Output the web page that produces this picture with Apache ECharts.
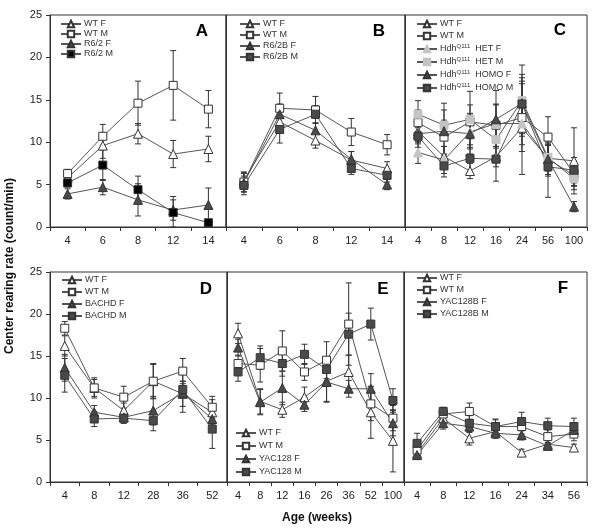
<!DOCTYPE html>
<html>
<head>
<meta charset="utf-8">
<script src="https://cdn.jsdelivr.net/npm/echarts@6/dist/echarts.min.js"></script>
<style>
  html, body { margin: 0; padding: 0; background: #fff; }
  #chart { width: 600px; height: 532px; }
</style>
</head>
<body>
<div id="chart"></div>
<script>
  // categories (age in weeks) per panel
  var catsA = ['4', '6', '8', '12', '14']
  var catsB = ['4', '6', '8', '12', '14']
  var catsC = ['4', '8', '12', '16', '24', '56', '100']
  var catsD = ['4', '8', '12', '28', '36', '52']
  var catsE = ['4', '8', '12', '16', '26', '36', '52', '100']
  var catsF = ['4', '8', '12', '16', '24', '34', '56']
  var yTicks = [0, 5, 10, 15, 20, 25]

  // Panel A: R6/2
  var aWtF = [5.8, 9.6, 11.0, 8.6, 9.2]
  var aWtFErr = [0.6, 1.5, 1.2, 1.6, 1.5]
  var aWtM = [6.3, 10.7, 14.6, 16.7, 13.9]
  var aWtMErr = [0.5, 1.4, 2.6, 4.1, 2.2]
  var aMutF = [3.9, 4.7, 3.2, 2.0, 2.6]
  var aMutFErr = [0.6, 0.9, 1.9, 1.2, 2.0]
  var aMutM = [5.2, 7.3, 4.4, 1.7, 0.5]
  var aMutMErr = [0.5, 1.8, 1.6, 1.9, 0.3]

  // Panel B: R6/2B
  var bWtF = [5.5, 12.4, 10.2, 7.9, 6.9]
  var bWtFErr = [1.0, 1.3, 0.9, 1.0, 0.8]
  var bWtM = [5.3, 14.0, 13.8, 11.2, 9.7]
  var bWtMErr = [1.1, 1.8, 1.6, 1.6, 1.2]
  var bMutF = [5.2, 13.3, 11.4, 8.0, 5.0]
  var bMutFErr = [1.1, 1.2, 1.4, 0.9, 0.6]
  var bMutM = [4.9, 11.5, 13.3, 6.9, 6.1]
  var bMutMErr = [1.1, 1.6, 1.0, 0.7, 0.8]

  // Panel C: HdhQ111
  var cWtF = [11.3, 8.3, 6.6, 8.3, 11.7, 8.1, 7.8]
  var cWtFErr = [1.3, 1.2, 0.9, 1.2, 5.5, 1.5, 3.9]
  var cWtM = [12.3, 10.6, 12.4, 12.0, 12.9, 10.6, 6.3]
  var cWtMErr = [1.5, 2.0, 2.0, 2.5, 4.0, 2.4, 1.5]
  var cHetF = [8.8, 7.9, 11.2, 12.2, 12.2, 8.0, 6.1]
  var cHetFErr = [1.3, 1.6, 2.0, 2.2, 2.5, 1.8, 1.2]
  var cHetM = [13.3, 12.0, 12.7, 10.3, 14.9, 8.2, 5.7]
  var cHetMErr = [1.6, 1.8, 3.3, 2.0, 4.2, 1.5, 1.3]
  var cHomoF = [11.0, 11.3, 11.0, 12.7, 14.6, 8.0, 2.4]
  var cHomoFErr = [1.2, 3.3, 2.4, 3.4, 3.0, 2.0, 0.6]
  var cHomoM = [10.7, 7.2, 8.1, 8.0, 14.5, 7.1, 6.7]
  var cHomoMErr = [1.3, 1.3, 1.6, 2.6, 3.5, 3.6, 1.5]

  // Panel D: BACHD
  var dWtF = [16.2, 11.2, 8.5, 12.0, 10.5, 8.3]
  var dWtFErr = [1.2, 1.0, 0.9, 2.0, 1.5, 1.5]
  var dWtM = [18.3, 11.2, 10.1, 12.0, 13.2, 8.9]
  var dWtMErr = [0.8, 1.2, 1.3, 2.1, 1.5, 1.3]
  var dMutF = [13.6, 8.3, 7.7, 8.5, 10.6, 7.5]
  var dMutFErr = [1.6, 0.8, 0.7, 1.7, 2.3, 1.4]
  var dMutM = [12.7, 7.5, 7.6, 7.3, 11.0, 6.3]
  var dMutMErr = [2.0, 0.9, 0.6, 1.2, 1.0, 2.3]

  // Panel E: YAC128
  var eWtF = [17.7, 9.6, 8.6, 10.1, 12.0, 13.1, 8.3, 4.9]
  var eWtFErr = [1.2, 1.5, 0.9, 1.2, 2.4, 2.0, 3.1, 3.7]
  var eWtM = [14.1, 13.9, 15.6, 13.1, 14.5, 18.8, 9.3, 7.6]
  var eWtMErr = [1.0, 2.0, 2.4, 1.0, 2.2, 4.9, 2.0, 1.5]
  var eMutF = [16.0, 9.5, 11.2, 9.2, 11.9, 11.1, 11.1, 7.0]
  var eMutFErr = [1.0, 1.5, 2.0, 0.8, 2.4, 1.0, 1.8, 1.5]
  var eMutM = [13.1, 14.8, 14.1, 15.2, 13.4, 17.6, 18.8, 9.7]
  var eMutMErr = [1.1, 1.4, 1.5, 1.2, 1.5, 2.5, 1.9, 1.4]

  // Panel F: YAC128B
  var fWtF = [3.4, 7.6, 5.2, 6.0, 3.5, 4.5, 4.1]
  var fWtFErr = [0.4, 0.7, 0.8, 0.6, 0.4, 0.5, 0.4]
  var fWtM = [3.8, 8.1, 8.4, 6.6, 6.6, 5.4, 5.7]
  var fWtMErr = [0.6, 0.7, 1.0, 0.8, 0.9, 0.8, 0.8]
  var fMutF = [3.2, 7.0, 6.6, 5.8, 5.6, 4.3, 6.2]
  var fMutFErr = [0.5, 0.7, 0.7, 0.6, 0.6, 0.4, 0.7]
  var fMutM = [4.6, 8.4, 7.0, 6.6, 7.2, 6.7, 6.6]
  var fMutMErr = [1.2, 0.5, 0.9, 0.9, 1.1, 0.9, 1.0]

  var FONT = 'Liberation Sans, Arial, sans-serif'
  var lineColor = '#555'
  var edgeColor = '#333'

  // marker styles
  var styles = {
    openTri: { symbol: 'triangle', size: 9, fill: '#fff' },
    openSq: { symbol: 'rect', size: 8, fill: '#fff' },
    darkTri: { symbol: 'triangle', size: 9, fill: '#4a4a4a' },
    darkSq: { symbol: 'rect', size: 8, fill: '#4a4a4a' },
    blackSq: { symbol: 'rect', size: 8, fill: '#000' },
    lightTri: { symbol: 'triangle', size: 9, fill: '#c4c4c4', border: '#c4c4c4' },
    lightSq: { symbol: 'rect', size: 8, fill: '#c4c4c4', border: '#c4c4c4' }
  }

  // grid boxes (pixels)
  var grids = [
    { left: 50, top: 15, width: 176, height: 212 },
    { left: 226, top: 15, width: 179, height: 212 },
    { left: 405, top: 15, width: 182, height: 212 },
    { left: 50, top: 272, width: 177, height: 210 },
    { left: 227, top: 272, width: 177, height: 210 },
    { left: 404, top: 272, width: 183, height: 210 }
  ]
  var panelCats = [catsA, catsB, catsC, catsD, catsE, catsF]

  var series = []
  function addSeries (gi, name, values, errs, st) {
    // error bars: own name so the legend takes its icon from the line series
    series.push({
      name: 'err ' + gi + ' ' + name,
      type: 'custom',
      xAxisIndex: gi,
      yAxisIndex: gi,
      z: 2,
      silent: true,
      data: values.map(function (v, i) { return [i, v, errs[i]] }),
      renderItem: function (params, api) {
        var x = api.value(0)
        var m = api.value(1)
        var e = api.value(2)
        var top = api.coord([x, m + e])
        var bot = api.coord([x, Math.max(0, m - e)])
        var cap = 3
        var style = { stroke: edgeColor, lineWidth: 1 }
        return {
          type: 'group',
          children: [
            { type: 'line', shape: { x1: top[0], y1: top[1], x2: bot[0], y2: bot[1] }, style: style },
            { type: 'line', shape: { x1: top[0] - cap, y1: top[1], x2: top[0] + cap, y2: top[1] }, style: style },
            { type: 'line', shape: { x1: bot[0] - cap, y1: bot[1], x2: bot[0] + cap, y2: bot[1] }, style: style }
          ]
        }
      }
    })
    series.push({
      name: name,
      type: 'line',
      xAxisIndex: gi,
      yAxisIndex: gi,
      z: 3,
      data: values,
      symbol: st.symbol,
      symbolSize: st.size,
      showAllSymbol: true,
      itemStyle: { color: st.fill, borderColor: st.border || edgeColor, borderWidth: 1, opacity: 1 },
      lineStyle: { color: lineColor, width: 1 }
    })
  }

  addSeries(0, 'WT F', aWtF, aWtFErr, styles.openTri)
  addSeries(0, 'WT M', aWtM, aWtMErr, styles.openSq)
  addSeries(0, 'R6/2 F', aMutF, aMutFErr, styles.darkTri)
  addSeries(0, 'R6/2 M', aMutM, aMutMErr, styles.blackSq)

  addSeries(1, 'WT F', bWtF, bWtFErr, styles.openTri)
  addSeries(1, 'WT M', bWtM, bWtMErr, styles.openSq)
  addSeries(1, 'R6/2B F', bMutF, bMutFErr, styles.darkTri)
  addSeries(1, 'R6/2B M', bMutM, bMutMErr, styles.darkSq)

  addSeries(2, 'WT F', cWtF, cWtFErr, styles.openTri)
  addSeries(2, 'WT M', cWtM, cWtMErr, styles.openSq)
  addSeries(2, 'HdhQ111 HET F', cHetF, cHetFErr, styles.lightTri)
  addSeries(2, 'HdhQ111 HET M', cHetM, cHetMErr, styles.lightSq)
  addSeries(2, 'HdhQ111 HOMO F', cHomoF, cHomoFErr, styles.darkTri)
  addSeries(2, 'HdhQ111 HOMO M', cHomoM, cHomoMErr, styles.darkSq)

  addSeries(3, 'WT F', dWtF, dWtFErr, styles.openTri)
  addSeries(3, 'WT M', dWtM, dWtMErr, styles.openSq)
  addSeries(3, 'BACHD F', dMutF, dMutFErr, styles.darkTri)
  addSeries(3, 'BACHD M', dMutM, dMutMErr, styles.darkSq)

  addSeries(4, 'WT F', eWtF, eWtFErr, styles.openTri)
  addSeries(4, 'WT M', eWtM, eWtMErr, styles.openSq)
  addSeries(4, 'YAC128 F', eMutF, eMutFErr, styles.darkTri)
  addSeries(4, 'YAC128 M', eMutM, eMutMErr, styles.darkSq)

  addSeries(5, 'WT F', fWtF, fWtFErr, styles.openTri)
  addSeries(5, 'WT M', fWtM, fWtMErr, styles.openSq)
  addSeries(5, 'YAC128B F', fMutF, fMutFErr, styles.darkTri)
  addSeries(5, 'YAC128B M', fMutM, fMutMErr, styles.darkSq)

  var xAxes = grids.map(function (g, i) {
    return {
      type: 'category',
      gridIndex: i,
      data: panelCats[i],
      boundaryGap: true,
      axisLine: { lineStyle: { color: edgeColor, width: 1 } },
      axisTick: { show: true, inside: false, length: 4, lineStyle: { color: edgeColor } },
      axisLabel: { color: '#222', fontSize: 11, fontFamily: FONT, margin: 8, interval: 0 }
    }
  })
  var yAxes = grids.map(function (g, i) {
    var first = (i === 0 || i === 3)
    return {
      type: 'value',
      gridIndex: i,
      min: yTicks[0],
      max: yTicks[yTicks.length - 1],
      interval: 5,
      splitLine: { show: false },
      axisLine: { show: true, lineStyle: { color: edgeColor, width: 1 } },
      axisTick: { show: first, length: 4, lineStyle: { color: edgeColor } },
      axisLabel: { show: first, color: '#222', fontSize: 11, fontFamily: FONT, margin: 8 }
    }
  })

  function legend (names, left, top, gap) {
    return {
      data: names,
      orient: 'vertical',
      left: left,
      top: top,
      itemWidth: 20,
      itemHeight: 8,
      itemGap: gap,
      padding: 0,
      selectedMode: false,
      formatter: function (name) {
        if (name.indexOf('HdhQ111') === 0) {
          return '{n|Hdh}{s|Q111}{n|  ' + name.slice(8) + '}'
        }
        return name
      },
      textStyle: {
        color: '#333',
        fontSize: 9,
        fontFamily: FONT,
        lineHeight: 10,
        padding: [0, 0, 0, -2],
        rich: {
          n: { fontSize: 9, fontFamily: FONT, color: '#333' },
          s: { fontSize: 6, fontFamily: FONT, color: '#333', padding: [0, 0, 6, 0] }
        }
      }
    }
  }

  var legends = [
    legend(['WT F', 'WT M', 'R6/2 F', 'R6/2 M'], 60, 19, 0),
    legend(['WT F', 'WT M', 'R6/2B F', 'R6/2B M'], 239, 19, 1),
    legend(['WT F', 'WT M', 'HdhQ111 HET F', 'HdhQ111 HET M', 'HdhQ111 HOMO F', 'HdhQ111 HOMO M'], 416, 19, 2),
    legend(['WT F', 'WT M', 'BACHD F', 'BACHD M'], 61, 275, 2),
    legend(['WT F', 'WT M', 'YAC128 F', 'YAC128 M'], 235, 428, 3),
    legend(['WT F', 'WT M', 'YAC128B F', 'YAC128B M'], 416, 273, 2)
  ]

  var letters = [['A', 202, 31], ['B', 379, 31], ['C', 560, 30], ['D', 206, 289], ['E', 383, 289], ['F', 563, 288]]
  var graphics = letters.map(function (l) {
    return {
      type: 'text', x: l[1], y: l[2],
      style: { text: l[0], fill: '#000', font: 'bold 17px ' + FONT, textAlign: 'center', textVerticalAlign: 'middle' }
    }
  })
  graphics.push({
    type: 'text', x: 10, y: 266, rotation: Math.PI / 2,
    style: { text: 'Center rearing rate (count/min)', fill: '#111', font: 'bold 12px ' + FONT, textAlign: 'center', textVerticalAlign: 'middle' }
  })
  graphics.push({
    type: 'text', x: 317, y: 518,
    style: { text: 'Age (weeks)', fill: '#111', font: 'bold 12px ' + FONT, textAlign: 'center', textVerticalAlign: 'middle' }
  })

  var chart = echarts.init(document.getElementById('chart'))
  chart.setOption({
    animation: false,
    backgroundColor: '#fff',
    grid: grids.map(function (g) {
      return { left: g.left, top: g.top, width: g.width, height: g.height, show: true, borderColor: edgeColor, borderWidth: 1, backgroundColor: 'transparent' }
    }),
    xAxis: xAxes,
    yAxis: yAxes,
    legend: legends,
    graphic: graphics,
    series: series
  })
</script>
</body>
</html>
